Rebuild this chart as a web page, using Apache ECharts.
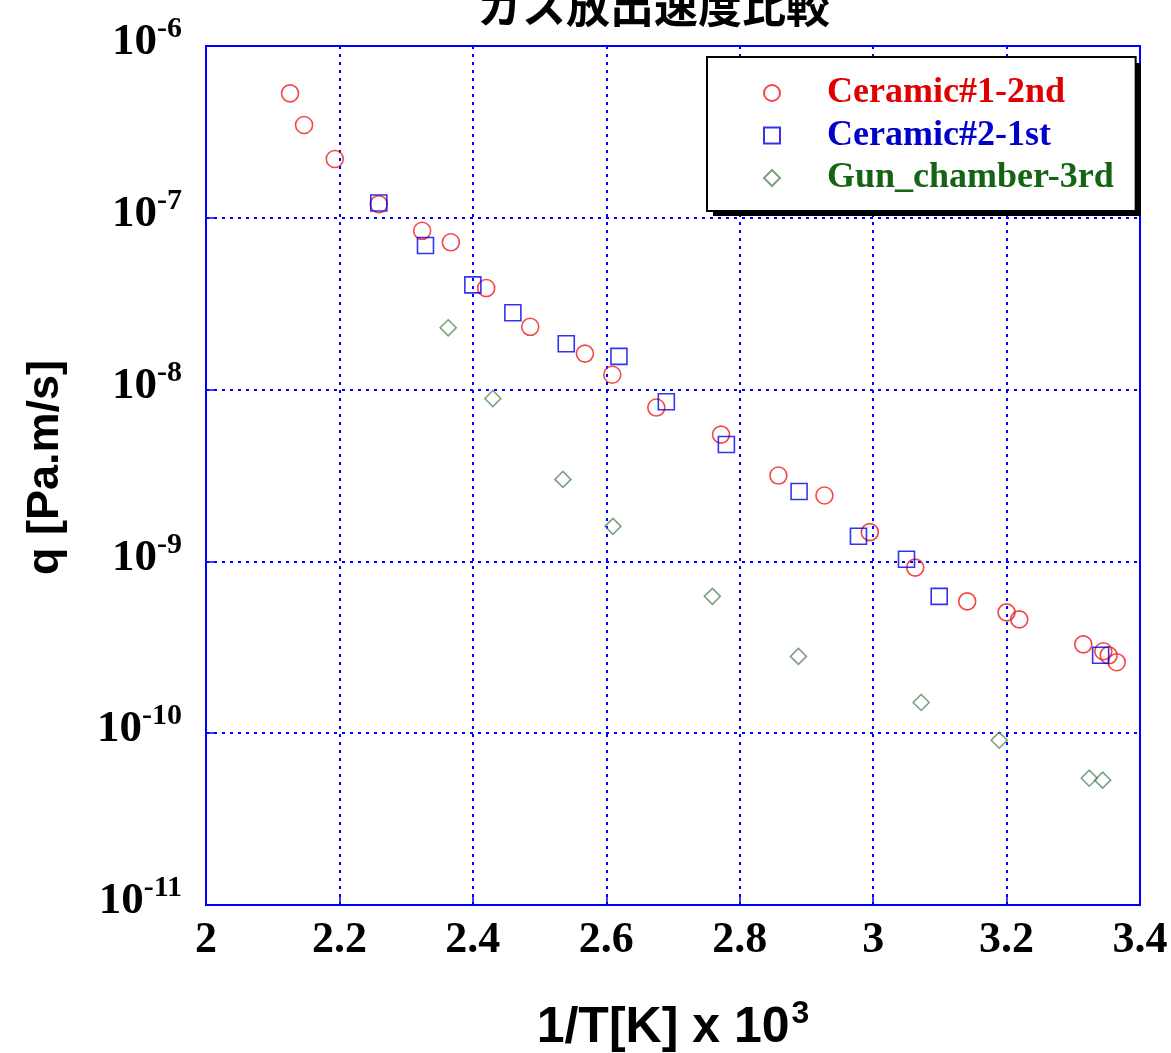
<!DOCTYPE html>
<html>
<head>
<meta charset="utf-8">
<script src="https://cdn.jsdelivr.net/npm/echarts@6/dist/echarts.min.js"></script>
<style>
  html, body { margin: 0; padding: 0; background: #fff; }
  #chart { width: 1171px; height: 1053px; }
</style>
</head>
<body>
<div id="chart"></div>
<script>
// ガス放出速度比較 — 1/T vs q
const ceramic1X = [2.126, 2.147, 2.193, 2.259, 2.324, 2.367, 2.420, 2.486, 2.568, 2.609, 2.675, 2.772, 2.858, 2.927, 2.995, 3.063, 3.141, 3.200, 3.219, 3.315, 3.345, 3.353, 3.365]
const ceramic1Y = [5.3e-7, 3.47e-7, 2.2e-7, 1.2e-7, 8.4e-8, 7.2e-8, 3.9e-8, 2.32e-8, 1.62e-8, 1.22e-8, 7.86e-9, 5.47e-9, 3.16e-9, 2.42e-9, 1.48e-9, 9.2e-10, 5.85e-10, 5.05e-10, 4.6e-10, 3.29e-10, 3.0e-10, 2.84e-10, 2.59e-10]

const ceramic2X = [2.259, 2.329, 2.400, 2.460, 2.540, 2.619, 2.690, 2.780, 2.889, 2.978, 3.050, 3.099, 3.341]
const ceramic2Y = [1.22e-7, 6.9e-8, 4.07e-8, 2.8e-8, 1.85e-8, 1.56e-8, 8.5e-9, 4.79e-9, 2.55e-9, 1.4e-9, 1.03e-9, 6.26e-10, 2.84e-10]

const gunX = [2.363, 2.430, 2.535, 2.610, 2.759, 2.888, 3.072, 3.189, 3.324, 3.344]
const gunY = [2.29e-8, 8.87e-9, 3.0e-9, 1.6e-9, 6.26e-10, 2.8e-10, 1.51e-10, 9.1e-11, 5.47e-11, 5.33e-11]

const seriesNames = ['Ceramic#1-2nd', 'Ceramic#2-1st', 'Gun_chamber-3rd']
const markColors = ['#ee1c1c', '#0000ee', '#5b8a60']
const textColors = ['#e00000', '#0000cc', '#146414']

const serif = "'Times New Roman', 'Liberation Serif', serif"
const sans = "Arial, 'Liberation Sans', sans-serif"

const zip = (xs, ys) => xs.map((x, i) => [x, ys[i]])

const chart = echarts.init(document.getElementById('chart'))

const makeSeries = (name, data, symbol, size, color) => ({
  name: name,
  type: 'scatter',
  data: data,
  symbol: symbol,
  symbolSize: size,
  itemStyle: {
    color: 'rgba(255,255,255,0)',
    borderColor: color,
    borderWidth: 1.6
  },
  emphasis: { disabled: true }
})

const option = {
  backgroundColor: '#fff',
  animation: false,
  title: {
    text: 'ガス放出速度比較',
    left: 473,
    top: -21,
    textStyle: {
      fontFamily: "'Noto Sans CJK JP', sans-serif",
      fontSize: 44,
      fontWeight: 'bold',
      color: '#000'
    }
  },
  // 凡例の影（黒ベタ）
  graphic: [{
    type: 'rect',
    z: 3,
    silent: true,
    shape: { x: 713, y: 63, width: 428, height: 153 },
    style: { fill: '#000' }
  }],
  grid: {
    left: 206,
    right: 31,
    top: 46,
    bottom: 148,
    outerBoundsMode: 'none',
    show: true,
    borderColor: '#0000ff',
    borderWidth: 2,
    backgroundColor: 'transparent'
  },
  legend: {
    orient: 'vertical',
    left: 707,
    top: 57,
    z: 4,
    padding: [18, 22, 15, 56],
    itemGap: 6.5,
    itemWidth: 16,
    itemHeight: 16,
    backgroundColor: '#fff',
    borderColor: '#000',
    borderWidth: 2,
    data: seriesNames.map((n, i) => ({
      name: n,
      textStyle: { color: textColors[i] }
    })),
    textStyle: {
      fontFamily: serif,
      fontWeight: 'bold',
      fontSize: 36,
      lineHeight: 34,
      padding: [0, 0, 0, 42]
    }
  },
  xAxis: {
    type: 'value',
    min: 2,
    max: 3.4,
    interval: 0.2,
    name: '{n|1/T[K] x 10}{s|3}',
    nameLocation: 'middle',
    nameGap: 93,
    nameTextStyle: {
      rich: {
        n: { fontFamily: sans, fontWeight: 'bold', fontSize: 50, lineHeight: 50, color: '#000', padding: [10, 0, 0, 0] },
        s: { fontFamily: sans, fontWeight: 'bold', fontSize: 32, lineHeight: 32, color: '#000', verticalAlign: 'top', padding: [0, 0, 0, 2] }
      }
    },
    axisLine: { show: true, lineStyle: { color: '#0000ff', width: 2 } },
    axisTick: { show: true, inside: true, length: 8, lineStyle: { color: '#0000ff', width: 1.5 } },
    axisLabel: {
      margin: 14,
      fontFamily: serif,
      fontWeight: 'bold',
      fontSize: 44,
      color: '#000'
    },
    splitLine: {
      show: true,
      lineStyle: { color: '#0000ff', width: 2, type: [3, 5] }
    }
  },
  yAxis: {
    type: 'log',
    logBase: 10,
    min: 1e-11,
    max: 1e-6,
    name: 'q [Pa.m/s]',
    nameLocation: 'middle',
    nameGap: 138,
    nameTextStyle: {
      fontFamily: sans,
      fontWeight: 'bold',
      fontSize: 45,
      color: '#000',
      padding: [0, 0, 0, 16]
    },
    axisLine: { show: true, lineStyle: { color: '#0000ff', width: 2 } },
    axisTick: { show: true, inside: true, length: 8, lineStyle: { color: '#0000ff', width: 1.5 } },
    minorTick: { show: false },
    axisLabel: {
      margin: 24,
      padding: [0, 0, 19, 0],
      formatter: function (v) {
        const e = Math.round(Math.log10(v))
        return '{b|10}{s|' + e + '}'
      },
      rich: {
        b: { fontFamily: serif, fontWeight: 'bold', fontSize: 45, lineHeight: 44, color: '#000', padding: [12, 0, 0, 0] },
        s: { fontFamily: serif, fontWeight: 'bold', fontSize: 30, lineHeight: 30, color: '#000', verticalAlign: 'top' }
      }
    },
    splitLine: {
      show: true,
      lineStyle: { color: '#0000ff', width: 2, type: [3, 5] }
    }
  },
  series: [
    makeSeries(seriesNames[0], zip(ceramic1X, ceramic1Y), 'circle', 17, markColors[0]),
    makeSeries(seriesNames[1], zip(ceramic2X, ceramic2Y), 'rect', 16, markColors[1]),
    makeSeries(seriesNames[2], zip(gunX, gunY), 'diamond', 16, markColors[2])
  ]
}

chart.setOption(option)
</script>
</body>
</html>
